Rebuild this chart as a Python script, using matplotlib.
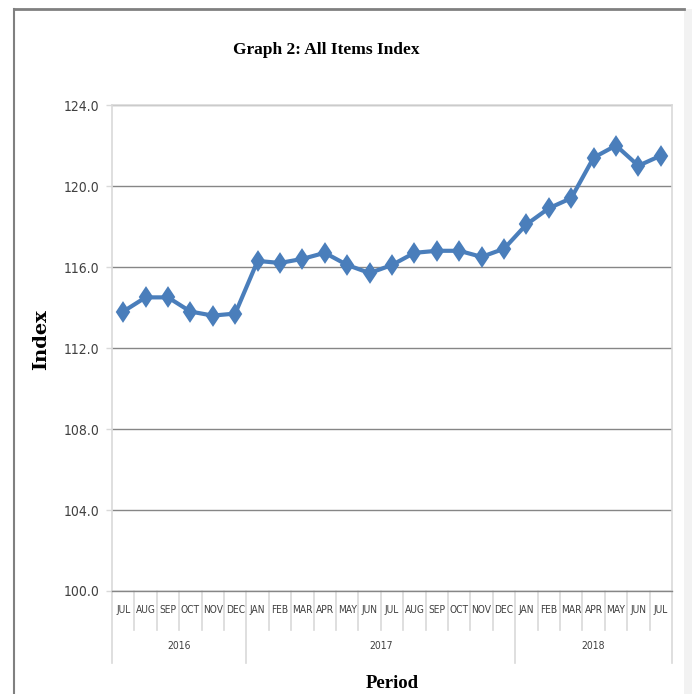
"""
Graph 2: All Items Index (Jul 2016 - Jul 2018)
"""

import matplotlib.pyplot as plt
import matplotlib.transforms as mtransforms
from matplotlib.patches import Rectangle
from matplotlib.lines import Line2D

months = ["JUL", "AUG", "SEP", "OCT", "NOV", "DEC",
          "JAN", "FEB", "MAR", "APR", "MAY", "JUN",
          "JUL", "AUG", "SEP", "OCT", "NOV", "DEC",
          "JAN", "FEB", "MAR", "APR", "MAY", "JUN", "JUL"]
years = ["2016", "2017", "2018"]
year_counts = [6, 12, 7]
index_values = [113.8, 114.5, 114.5, 113.8, 113.6, 113.7,
                116.3, 116.2, 116.4, 116.7, 116.1, 115.7,
                116.1, 116.7, 116.8, 116.8, 116.5, 116.9,
                118.1, 118.9, 119.4, 121.4, 122.0, 121.0, 121.5]
y_ticks = [100, 104, 108, 112, 116, 120, 124]

NARROW = ["DejaVu Sans"]
SERIF = ["Liberation Serif", "DejaVu Serif"]
LINE_BLUE = "#4A7EBB"
GRID = "#868686"
LIGHT = "#D9D9D9"
TEXT = "#404040"

fig = plt.figure(figsize=(6.92, 6.94), dpi=100)

# outer frame of the chart object
fig.add_artist(Line2D([14 / 692, 684 / 692], [1 - 9 / 694, 1 - 9 / 694],
                      transform=fig.transFigure, color="#808080", linewidth=2))
fig.add_artist(Line2D([14 / 692, 14 / 692], [0, 1 - 9 / 694],
                      transform=fig.transFigure, color="#808080", linewidth=1.5))
fig.add_artist(Rectangle((684 / 692, 0), 8 / 692, 1 - 9 / 694,
                         transform=fig.transFigure, color="#F2F2F2", linewidth=0))

ax = fig.add_axes([112 / 692, 103 / 694, 560 / 692, 486 / 694])

x = list(range(len(months)))
ax.plot(x, index_values, color=LINE_BLUE, linewidth=3, marker="d",
        markersize=9.5, markeredgewidth=1.5, markeredgecolor=LINE_BLUE,
        markerfacecolor=LINE_BLUE, zorder=3)

ax.set_xlim(-0.5, len(months) - 0.5)
ax.set_ylim(100, 124)
ax.set_yticks(y_ticks)
ax.set_yticklabels([f"{v:.1f}" for v in y_ticks], fontfamily=NARROW,
                   fontstretch="condensed", fontsize=10, color=TEXT)
ax.yaxis.grid(True, color=GRID, linewidth=1)
ax.set_axisbelow(True)
ax.tick_params(axis="y", length=4, color=LIGHT, width=1, pad=5)
ax.set_xticks([])

for side in ["top", "right", "left"]:
    ax.spines[side].set_color(LIGHT)
    ax.spines[side].set_linewidth(1.2)
ax.spines["bottom"].set_color(GRID)
ax.spines["bottom"].set_linewidth(1)

# two-level category axis
trans = mtransforms.blended_transform_factory(ax.transData, ax.transAxes)
month_row = -0.0802
year_row = -0.148
boundaries = [0]
for c in year_counts:
    boundaries.append(boundaries[-1] + c)
for k in range(len(months) + 1):
    bottom = year_row if k in boundaries else month_row
    ax.plot([k - 0.5, k - 0.5], [0, bottom], transform=trans, color=LIGHT,
            linewidth=1.2, clip_on=False)
for i, m in enumerate(months):
    ax.text(i, month_row / 2, m, transform=trans, ha="center", va="center",
            fontfamily=NARROW, fontstretch="condensed", fontsize=7.3,
            color=TEXT)
for j, yr in enumerate(years):
    mid = (boundaries[j] + boundaries[j + 1]) / 2 - 0.5
    ax.text(mid, (month_row + year_row) / 2, yr, transform=trans,
            ha="center", va="center", fontfamily=NARROW,
            fontstretch="condensed", fontsize=7.5, color=TEXT)

fig.text(326 / 692, 1 - 50 / 694, "Graph 2: All Items Index", ha="center",
         va="center", fontfamily=SERIF, fontweight="bold", fontsize=12.5)
fig.text(392 / 692, 1 - 683 / 694, "Period", ha="center", va="center",
         fontfamily=SERIF, fontweight="bold", fontsize=13.5)
fig.text(41 / 692, 1 - 340 / 694, "Index", ha="center", va="center",
         rotation=90, fontfamily=["DejaVu Serif"], fontweight="bold",
         fontsize=14)

plt.savefig("out.png", dpi=100)
